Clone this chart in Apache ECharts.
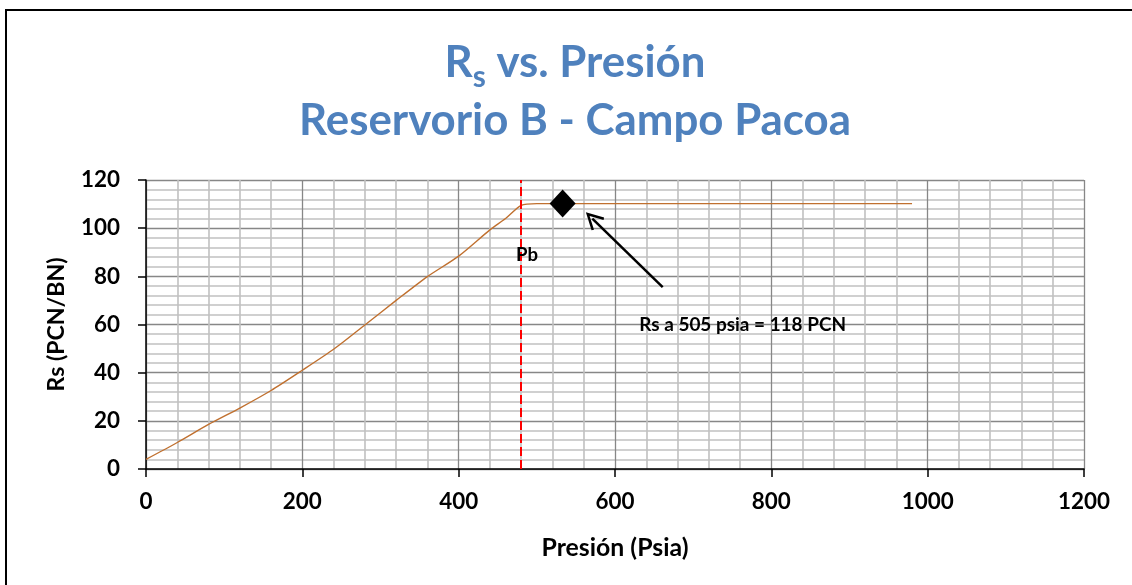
<!DOCTYPE html>
<html><head><meta charset="utf-8">
<script src="https://cdn.jsdelivr.net/npm/echarts@6/dist/echarts.min.js"></script>
<style>html,body{margin:0;padding:0;background:#fff}#c{width:1132px;height:585px}</style>
</head><body><div id="c"></div>
<script>
// ---- data ----
const pressure = [0, 40, 80, 120, 160, 200, 240, 280, 320, 360, 400, 440, 460, 480, 500, 980];
const rs =       [4, 11, 18.5, 25.3, 32.6, 41, 49.7, 59.8, 70, 79.9, 88.4, 99.3, 104, 109.5, 110.2, 110.2];
const markerPoint = [533, 110.2];
const pbPressure = 479;
const arrowFrom = [661, 75.5];
const arrowTo = [571, 104];
const annotationText = 'Rs a 505 psia = 118 PCN';
const annotationPos = [631, 60];
const pbText = 'Pb';
const pbLabelPos = [487.5, 89];
const titleLine1 = ['R', 's', ' vs. Presión'];
const titleLine2 = 'Reservorio B - Campo Pacoa';
const xAxisName = 'Presión (Psia)';
const yAxisName = 'Rs (PCN/BN)';
const xRange = [0, 1200, 200];
const yRange = [0, 120, 20];

// ---- font fitting ----
const FAM = 'Lato';
const ctx = document.createElement('canvas').getContext('2d');
function fit(text, target) { ctx.font = 'bold 100px ' + FAM; return 100 * target / ctx.measureText(text).width; }
const titleSize = fit(titleLine2, 552);
const tickSize = fit('1200', 52);
const axisNameSize = fit(xAxisName, 147);
const yNameSize = fit(yAxisName, 134);
const annSize = fit(annotationText, 207);
const pbSize = fit(pbText, 22);

const chevron = 'path://M10 0 L20 18.5 L17.6 20 L10 5.8 L2.4 20 L0 18.5 Z';

const chart = echarts.init(document.getElementById('c'), null, {renderer: 'canvas'});
chart.setOption({
  animation: false,
  backgroundColor: '#fff',
  title: {
    left: 570, top: 29, textAlign: 'center',
    text: '{a|' + titleLine1[0] + '}{s|' + titleLine1[1] + '}{a|' + titleLine1[2] + '}\n{a|' + titleLine2 + '}',
    textStyle: {
      rich: {
        a: {fontFamily: FAM, fontWeight: 'bold', fontSize: titleSize, color: '#4F81BD', lineHeight: 58},
        s: {fontFamily: FAM, fontWeight: 'bold', fontSize: titleSize * 0.68, color: '#4F81BD', lineHeight: titleSize * 0.68, verticalAlign: 'bottom'}
      }
    }
  },
  graphic: [{type: 'rect', shape: {x: 6, y: 10, width: 1200, height: 700}, style: {fill: 'none', stroke: '#000', lineWidth: 2}, silent: true}],
  grid: {left: 146, right: 48, top: 180, bottom: 116, containLabel: false},
  xAxis: {
    type: 'value', min: xRange[0], max: xRange[1], interval: xRange[2],
    name: xAxisName, nameLocation: 'middle', nameGap: 66,
    nameTextStyle: {fontFamily: FAM, fontWeight: 'bold', fontSize: axisNameSize, color: '#000'},
    axisLine: {show: true, lineStyle: {color: '#000', width: 1.5}},
    axisTick: {show: true, length: 8, lineStyle: {color: '#000', width: 1.5}},
    axisLabel: {margin: 22, fontFamily: FAM, fontWeight: 'bold', fontSize: tickSize, color: '#000', formatter: v => String(v)},
    splitLine: {show: true, lineStyle: {color: '#878787', width: 1.3}},
    minorTick: {show: false, splitNumber: 5},
    minorSplitLine: {show: true, lineStyle: {color: '#c0c0c0', width: 1.6}}
  },
  yAxis: {
    type: 'value', min: yRange[0], max: yRange[1], interval: yRange[2],
    name: yAxisName, nameLocation: 'middle', nameGap: 78, nameRotate: 90,
    nameTextStyle: {fontFamily: FAM, fontWeight: 'bold', fontSize: yNameSize, color: '#000'},
    axisLine: {show: true, lineStyle: {color: '#000', width: 1.5}},
    axisTick: {show: true, length: 8, lineStyle: {color: '#000', width: 1.5}},
    axisLabel: {margin: 26, fontFamily: FAM, fontWeight: 'bold', fontSize: tickSize, color: '#000', formatter: v => String(v)},
    splitLine: {show: true, lineStyle: {color: '#878787', width: 1.3}},
    minorTick: {show: false, splitNumber: 5},
    minorSplitLine: {show: true, lineStyle: {color: '#c0c0c0', width: 1.6}}
  },
  series: [
    {
      type: 'line', name: 'Rs', data: pressure.map((p, i) => [p, rs[i]]),
      smooth: 0.25, showSymbol: false, symbol: 'none',
      lineStyle: {color: '#C0702F', width: 1.4},
      markLine: {
        silent: true, symbol: 'none', label: {show: false},
        lineStyle: {color: '#FF0000', type: [9, 4], width: 2},
        data: [{xAxis: pbPressure}]
      },
      z: 3
    },
    {
      type: 'scatter', name: 'punto', data: [markerPoint],
      symbol: 'diamond', symbolSize: [26, 28], itemStyle: {color: '#000', opacity: 1},
      markLine: {
        silent: true, symbol: ['none', chevron], symbolSize: 18, label: {show: false},
        lineStyle: {color: '#000', type: 'solid', width: 2.5},
        data: [[{coord: arrowFrom}, {coord: arrowTo}]]
      },
      z: 4
    },
    {
      type: 'scatter', name: 'textos', symbolSize: 0, silent: true,
      data: [
        {value: annotationPos, name: annotationText, label: {show: true, position: 'right', distance: 0, fontSize: annSize, color: '#000'}},
        {value: pbLabelPos, name: pbText, label: {show: true, position: 'inside', fontSize: pbSize, color: '#000'}}
      ],
      label: {formatter: p => p.name, fontFamily: FAM, fontWeight: 'bold', color: '#000'},
      itemStyle: {opacity: 1},
      z: 5
    }
  ]
});
</script></body></html>
